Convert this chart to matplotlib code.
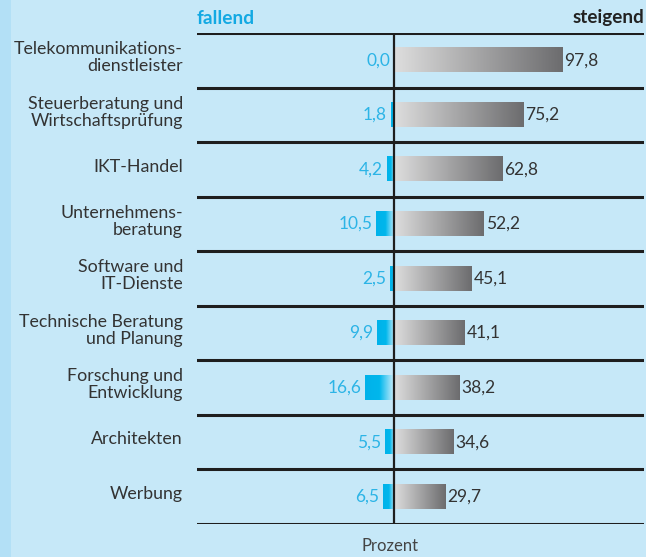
import matplotlib
matplotlib.use("Agg")
import matplotlib.pyplot as plt
import matplotlib.transforms as mtransforms
from matplotlib.colors import LinearSegmentedColormap
import numpy as np

plt.rcParams['font.family'] = ['Lato', 'DejaVu Sans']

categories = [
    "Telekommunikations-\ndienstleister",
    "Steuerberatung und\nWirtschaftsprüfung",
    "IKT-Handel",
    "Unternehmens-\nberatung",
    "Software und\nIT-Dienste",
    "Technische Beratung\nund Planung",
    "Forschung und\nEntwicklung",
    "Architekten",
    "Werbung",
]
fallend = [0.0, 1.8, 4.2, 10.5, 2.5, 9.9, 16.6, 5.5, 6.5]
steigend = [97.8, 75.2, 62.8, 52.2, 45.1, 41.1, 38.2, 34.6, 29.7]

BG = '#c6e8f8'
STRIP = '#b3e0f6'
LINE = '#1e1e1e'
BLUE = '#2cb4e6'
DARK = '#333333'

gray_cmap = LinearSegmentedColormap.from_list('grays', ['#dedede', '#6c6c6e'])
blue_cmap = LinearSegmentedColormap.from_list('blues', ['#00b2ea', '#00b7ec', '#c9ecfb'])

W, H = 646, 557
fig = plt.figure(figsize=(W / 100, H / 100), dpi=100)
fig.patch.set_facecolor(BG)
fig.patches.append(plt.Rectangle((0, 0), 11 / W, 1, transform=fig.transFigure,
                                 facecolor=STRIP, edgecolor='none', zorder=0))

left, right, top, bottom = 197, 644, 33, 524
ax = fig.add_axes([left / W, 1 - bottom / H, (right - left) / W, (bottom - top) / H])
ax.set_facecolor('none')
for s in ax.spines.values():
    s.set_visible(False)
ax.set_xticks([])
ax.set_yticks([])

px_per_unit = 1.72
zero_px = 394
xmin = -(zero_px - left) / px_per_unit
xmax = (right - zero_px) / px_per_unit
n = len(categories)

grad = np.linspace(0, 1, 256).reshape(1, -1)
bar_h = 0.44
for i, (neg, pos) in enumerate(zip(fallend, steigend)):
    y0, y1 = i - bar_h / 2, i + bar_h / 2
    ax.imshow(grad, cmap=gray_cmap, aspect='auto', extent=[0, pos, y1, y0],
              interpolation='bilinear', zorder=2)
    if neg > 0:
        ax.imshow(grad, cmap=blue_cmap, aspect='auto', extent=[-neg, 0, y1, y0],
                  interpolation='bilinear', zorder=2)
    ax.text(pos + 1.2, i, f"{pos:.1f}".replace('.', ','), ha='left', va='center',
            fontsize=12.5, color=DARK)
    ax.text(-neg - 2.2, i, f"{neg:.1f}".replace('.', ','), ha='right', va='center',
            fontsize=12.5, color=BLUE)

ax.set_xlim(xmin, xmax)
ax.set_ylim(n - 0.5, -0.5)

for k in range(n + 1):
    ax.axhline(k - 0.5, color=LINE, lw=2.2, zorder=3)
ax.axvline(0, color=LINE, lw=1.6, zorder=3)

trans = mtransforms.blended_transform_factory(fig.transFigure, ax.transData)
for i, name in enumerate(categories):
    ax.text(183 / W, i - 0.05, name, transform=trans, ha='right', va='center',
            fontsize=12.8, color=DARK, linespacing=1.08, multialignment='right')

fig.text(left / W, 1 - 18 / H, 'fallend', ha='left', va='center',
         fontsize=13.8, fontweight='bold', color='#13a9e3')
fig.text(right / W, 1 - 18 / H, 'steigend', ha='right', va='center',
         fontsize=13.6, fontweight='bold', color='#222222')
fig.text(390 / W, 1 - 546 / H, 'Prozent', ha='center', va='center',
         fontsize=12, color='#444444')

fig.savefig('out.png', dpi=100, facecolor=BG)
